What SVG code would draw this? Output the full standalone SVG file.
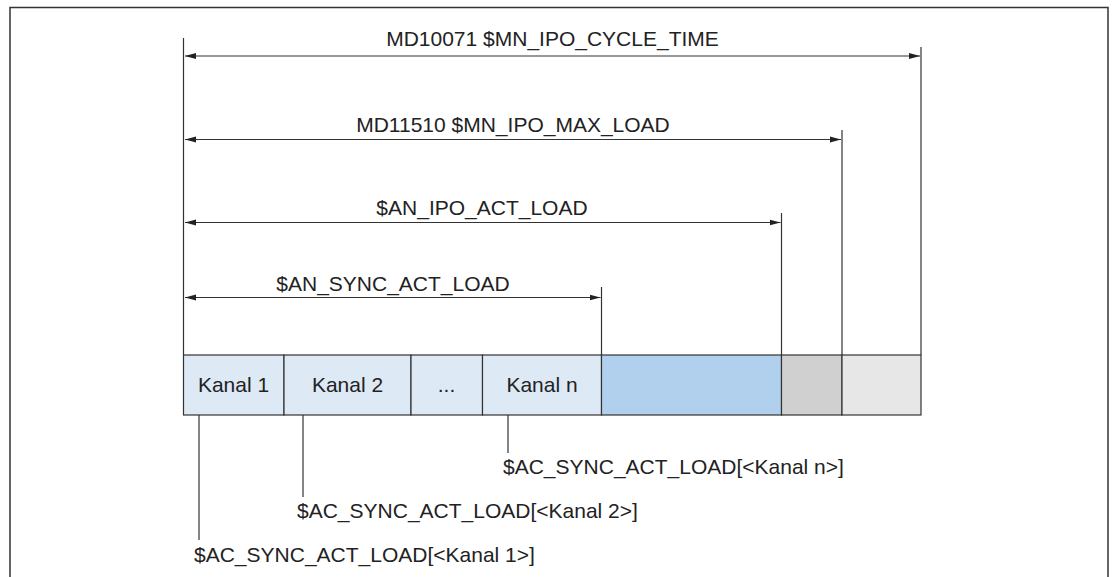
<svg xmlns="http://www.w3.org/2000/svg" width="1112" height="577" viewBox="0 0 1112 577">
<style>
text{font-family:"Liberation Sans",Arial,sans-serif;font-size:21px;fill:#222}
.ln{stroke:#333;stroke-width:1.2;fill:none}
.cell{stroke:#333;stroke-width:1.2}
</style>
<defs>
<marker id="ah" markerWidth="12" markerHeight="8" refX="11" refY="4" orient="auto-start-reverse" markerUnits="userSpaceOnUse">
<path d="M0,1 L11,4 L0,7 Z" fill="#222"/>
</marker>
</defs>
<rect width="1112" height="577" fill="#fff"/>
<rect x="10" y="7.5" width="1098" height="580" fill="none" stroke="#333" stroke-width="1.5"/>
<g id="connectors">
<line class="ln" x1="183.5" y1="38" x2="183.5" y2="355"/>
<line class="ln" x1="921" y1="47" x2="921" y2="355"/>
<line class="ln" x1="842" y1="130" x2="842" y2="355"/>
<line class="ln" x1="781.5" y1="213" x2="781.5" y2="355"/>
<line class="ln" x1="601.5" y1="287" x2="601.5" y2="355"/>
<line class="ln" x1="185" y1="56" x2="920" y2="56" marker-start="url(#ah)" marker-end="url(#ah)"/>
<line class="ln" x1="185" y1="139.5" x2="841" y2="139.5" marker-start="url(#ah)" marker-end="url(#ah)"/>
<line class="ln" x1="185" y1="222.5" x2="780.5" y2="222.5" marker-start="url(#ah)" marker-end="url(#ah)"/>
<line class="ln" x1="185" y1="297.5" x2="600.5" y2="297.5" marker-start="url(#ah)" marker-end="url(#ah)"/>
<line class="ln" x1="199" y1="415" x2="199" y2="540"/>
<line class="ln" x1="303" y1="415" x2="303" y2="497"/>
<line class="ln" x1="508" y1="415" x2="508" y2="453"/>
</g>
<g id="dim-labels">
<text x="552.5" y="46" text-anchor="middle">MD10071 $MN_IPO_CYCLE_TIME</text>
<text x="513" y="132" text-anchor="middle">MD11510 $MN_IPO_MAX_LOAD</text>
<text x="482" y="215" text-anchor="middle">$AN_IPO_ACT_LOAD</text>
<text x="393" y="290.5" text-anchor="middle">$AN_SYNC_ACT_LOAD</text>
</g>
<g id="kanal1"><rect class="cell" x="183.5" y="355" width="100.5" height="60" fill="#dee9f6"/><text x="233.5" y="392" text-anchor="middle">Kanal 1</text></g>
<g id="kanal2"><rect class="cell" x="284" y="355" width="127" height="60" fill="#dee9f6"/><text x="347.5" y="392" text-anchor="middle">Kanal 2</text></g>
<g id="dots"><rect class="cell" x="411" y="355" width="71.5" height="60" fill="#dee9f6"/><text x="446.5" y="392" text-anchor="middle">...</text></g>
<g id="kanaln"><rect class="cell" x="482.5" y="355" width="119" height="60" fill="#dee9f6"/><text x="542" y="392" text-anchor="middle">Kanal n</text></g>
<g id="ipo"><rect class="cell" x="601.5" y="355" width="180" height="60" fill="#b0d0ee"/></g>
<g id="reserve"><rect class="cell" x="781.5" y="355" width="60.5" height="60" fill="#d0d0d0"/></g>
<g id="free"><rect class="cell" x="842" y="355" width="79" height="60" fill="#e7e7e7"/></g>
<g id="ac-labels">
<text x="503" y="473.5">$AC_SYNC_ACT_LOAD[&lt;Kanal n&gt;]</text>
<text x="297" y="518">$AC_SYNC_ACT_LOAD[&lt;Kanal 2&gt;]</text>
<text x="194" y="561.5">$AC_SYNC_ACT_LOAD[&lt;Kanal 1&gt;]</text>
</g>
</svg>
